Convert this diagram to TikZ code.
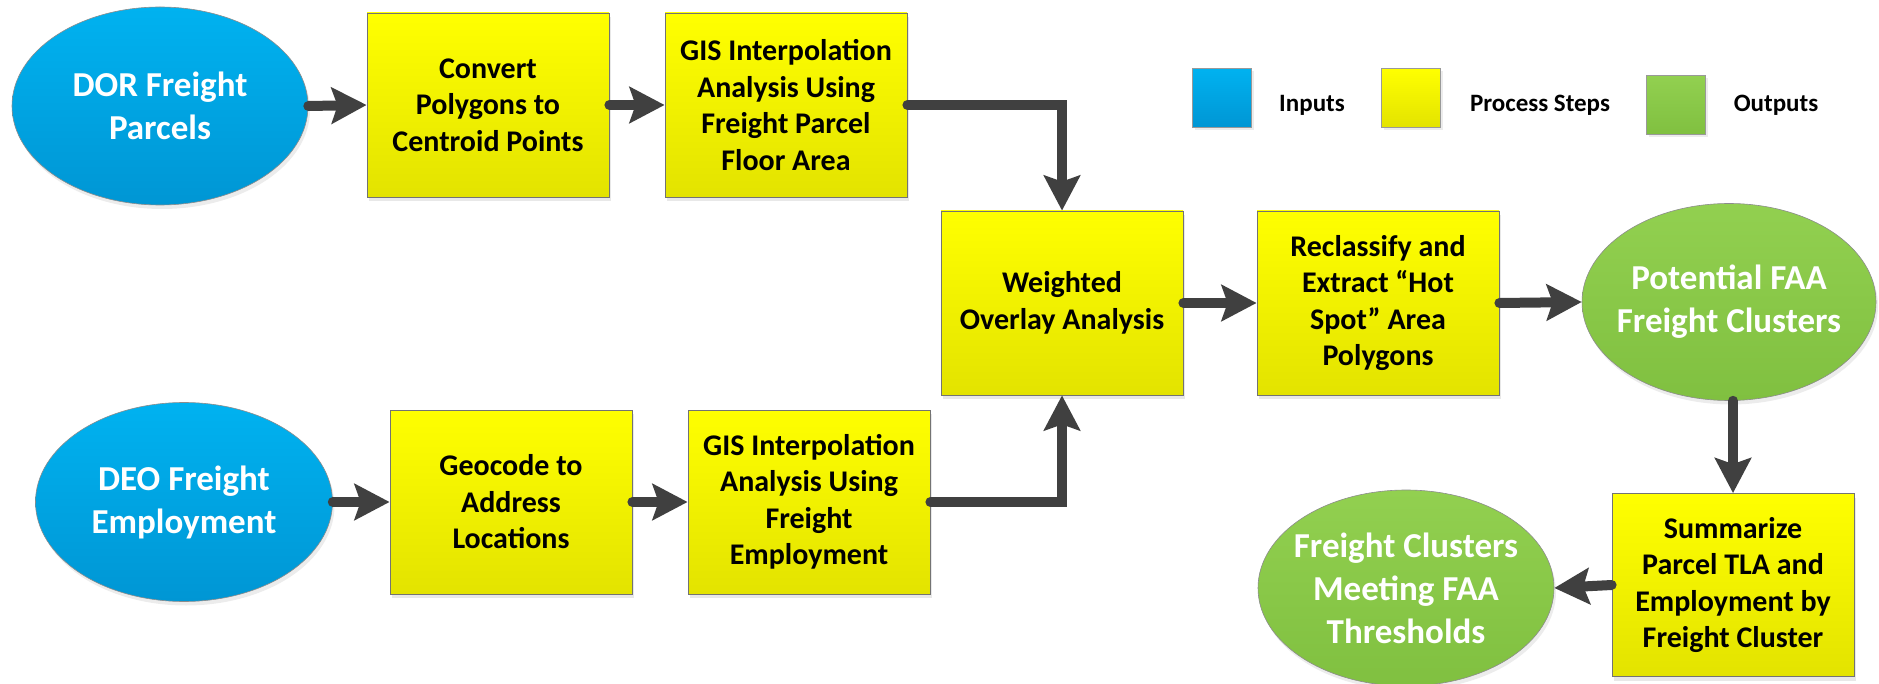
\documentclass[tikz,border=0pt]{standalone}
\usepackage{fontspec}
\setmainfont{Carlito}
\usetikzlibrary{arrows.meta,shadows,shapes.geometric}
\definecolor{arrowgray}{HTML}{404040}
\definecolor{ytop}{HTML}{FFFF00}
\definecolor{ybot}{HTML}{E3E300}
\definecolor{btop}{HTML}{00B2F0}
\definecolor{bbot}{HTML}{0096D4}
\definecolor{gtop}{HTML}{92D050}
\definecolor{gbot}{HTML}{80C040}
\tikzset{
  procbox/.style={rectangle, draw=black!55, line width=0.8pt, top color=ytop, bottom color=ybot,
    minimum width=242pt, minimum height=184pt, align=center, inner sep=2pt,
    font=\fontsize{30}{36.5}\selectfont\bfseries, text=black,
    drop shadow={opacity=0.18, shadow xshift=2pt, shadow yshift=-4pt}},
  inbox/.style={ellipse, draw=black!45, line width=0.6pt, top color=btop, bottom color=bbot,
    inner xsep=-15pt, inner ysep=0pt, align=center, text=white,
    font=\fontsize{35}{43}\selectfont\bfseries,
    drop shadow={opacity=0.15, shadow xshift=2pt, shadow yshift=-4pt}},
  outbox/.style={ellipse, draw=black!45, line width=0.6pt, top color=gtop, bottom color=gbot,
    inner xsep=-15pt, inner ysep=0pt, align=center, text=white,
    font=\fontsize{35}{43}\selectfont\bfseries,
    drop shadow={opacity=0.15, shadow xshift=2pt, shadow yshift=-4pt}},
  legsq/.style={rectangle, draw=black!40, line width=0.5pt, minimum width=59pt, minimum height=59pt,
    drop shadow={opacity=0.15, shadow xshift=2pt, shadow yshift=-3pt}},
  legtext/.style={font=\fontsize{25}{30}\selectfont\bfseries, text=black, inner sep=0pt},
  flow/.style={draw=arrowgray, line width=10pt, line cap=round,
    -{Stealth[length=35pt,width=36pt,inset=6pt]}},
}
\begin{document}
\begin{tikzpicture}[x=1pt,y=-1pt]
\useasboundingbox (0,0) rectangle (1879,684);
% inputs
\node[inbox, minimum width=296pt, minimum height=198pt] (dor) at (160,106) {DOR Freight\\Parcels};
\node[inbox, minimum width=297pt, minimum height=199pt] (deo) at (184,502) {DEO Freight\\Employment};
% process steps
\node[procbox] (conv) at (488,105) {Convert\\Polygons to\\Centroid Points};
\node[procbox] (gis1) at (786,105) {GIS Interpolation\\Analysis Using\\Freight Parcel\\Floor Area};
\node[procbox] (geo) at (511,502) {Geocode to\\Address\\Locations};
\node[procbox] (gis2) at (809,502) {GIS Interpolation\\Analysis Using\\Freight\\Employment};
\node[procbox] (wov) at (1062,303) {Weighted\\Overlay Analysis};
\node[procbox] (recl) at (1378,303) {Reclassify and\\Extract “Hot\\Spot” Area\\Polygons};
\node[procbox, minimum height=183pt] (summ) at (1733,585) {Summarize\\Parcel TLA and\\Employment by\\Freight Cluster};
% outputs
\node[outbox, minimum width=294pt, minimum height=197pt] (pot) at (1729,302) {Potential FAA\\Freight Clusters};
\node[outbox, minimum width=296pt, minimum height=196pt] (fc) at (1406,588) {Freight Clusters\\Meeting FAA\\Thresholds};
% legend
\node[legsq, top color=btop, bottom color=bbot] (lin) at (1222,98) {};
\node[legtext] (tin) at (1312,105) {Inputs};
\node[legsq, top color=ytop, bottom color=ybot] (lpr) at (1411,98) {};
\node[legtext] (tpr) at (1540,105) {Process Steps};
\node[legsq, top color=gtop, bottom color=gbot] (lout) at (1676,105) {};
\node[legtext] (tout) at (1776,105) {Outputs};
% connectors
\draw[flow] (dor.east) -- (conv.west);
\draw[flow] (conv.east) -- (gis1.west);
\draw[flow] (gis1.east) -| (wov.north);
\draw[flow] (deo.east) -- (geo.west);
\draw[flow] (geo.east) -- (gis2.west);
\draw[flow] (gis2.east) -| (wov.south);
\draw[flow] (wov.east) -- (recl.west);
\draw[flow] (recl.east) -- (pot.west);
\draw[flow] (pot.south -| summ.north) -- (summ.north);
\draw[flow] (summ.west) -- (fc.east);
\end{tikzpicture}
\end{document}
